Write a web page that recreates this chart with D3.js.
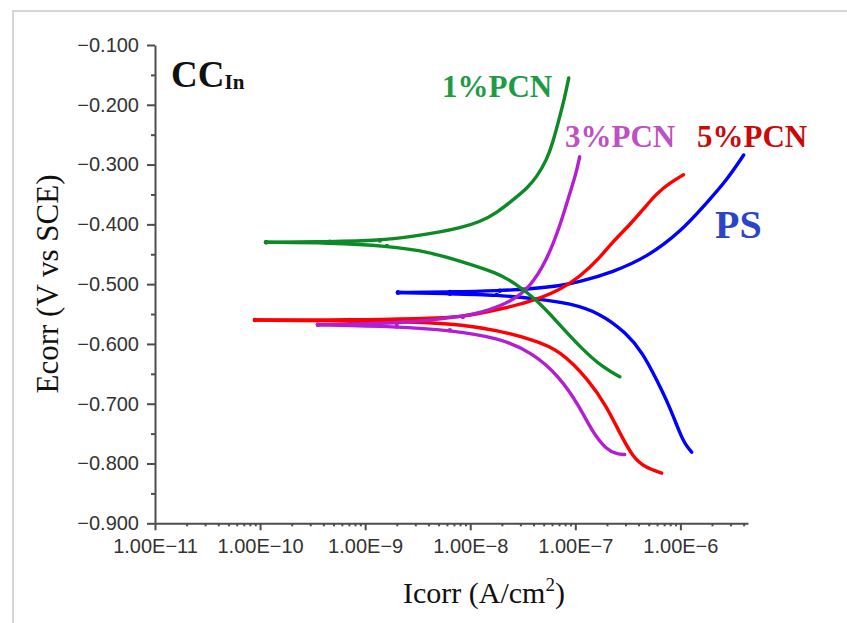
<!DOCTYPE html>
<html>
<head>
<meta charset="utf-8">
<style>
  body { margin: 0; background: #fff; }
  svg { display: block; }
  .axis path, .axis line { stroke: #4d4d4d; stroke-width: 2; }
  .axis text { font-family: "Liberation Sans", Arial, sans-serif; font-size: 20px; fill: #333; }
</style>
<script src="https://d3js.org/d3.v7.min.js" charset="utf-8"></script>
</head>
<body>
<script>
// tick values and labels
const yTicks = [-0.1, -0.2, -0.3, -0.4, -0.5, -0.6, -0.7, -0.8, -0.9];
const yTickLabels = ["\u22120.100", "\u22120.200", "\u22120.300", "\u22120.400", "\u22120.500", "\u22120.600", "\u22120.700", "\u22120.800", "\u22120.900"];
const xTicks = [1e-11, 1e-10, 1e-9, 1e-8, 1e-7, 1e-6];
const xTickLabels = ["1.00E\u221211", "1.00E\u221210", "1.00E\u22129", "1.00E\u22128", "1.00E\u22127", "1.00E\u22126"];

// 1%PCN : cathodic branch then anodic branch, both start at Ecorr
const pcn1CathI = [1.14e-10, 4.6e-10, 1.61e-9, 4.13e-9, 8.5e-9, 1.79e-8, 2.65e-8, 4.29e-8, 7.11e-8, 1.18e-7, 1.82e-7, 2.65e-7];
const pcn1CathE = [-0.430, -0.431, -0.436, -0.446, -0.463, -0.481, -0.498, -0.526, -0.568, -0.610, -0.639, -0.655];
const pcn1AnI = [1.14e-10, 4.6e-10, 1.38e-9, 2.84e-9, 5.1e-9, 7.96e-9, 1.23e-8, 1.79e-8, 2.77e-8, 3.45e-8, 4.29e-8, 5.35e-8, 6.09e-8, 7.11e-8, 7.94e-8, 8.66e-8];
const pcn1AnE = [-0.430, -0.429, -0.427, -0.420, -0.413, -0.406, -0.396, -0.381, -0.354, -0.340, -0.321, -0.292, -0.264, -0.220, -0.187, -0.155];

// 3%PCN
const pcn3CathI = [3.55e-10, 2.0e-9, 6.4e-9, 1.91e-8, 3.94e-8, 7.11e-8, 1.10e-7, 1.47e-7, 1.99e-7, 2.48e-7, 2.95e-7];
const pcn3CathE = [-0.568, -0.571, -0.577, -0.590, -0.615, -0.655, -0.705, -0.749, -0.777, -0.784, -0.785];
const pcn3AnI = [3.55e-10, 2.0e-9, 8.5e-9, 1.54e-8, 2.38e-8, 3.69e-8, 5.35e-8, 7.11e-8, 8.85e-8, 1.01e-7, 1.10e-7];
const pcn3AnE = [-0.568, -0.566, -0.555, -0.543, -0.530, -0.506, -0.460, -0.404, -0.348, -0.317, -0.287];

// 5%PCN
const pcn5CathI = [8.94e-11, 7.16e-10, 3.32e-9, 8.5e-9, 1.79e-8, 3.94e-8, 7.11e-8, 1.37e-7, 1.99e-7, 2.65e-7, 3.52e-7, 4.57e-7, 6.64e-7];
const pcn5CathE = [-0.560, -0.562, -0.563, -0.568, -0.577, -0.593, -0.610, -0.662, -0.705, -0.749, -0.789, -0.806, -0.816];
const pcn5AnI = [8.94e-11, 7.16e-10, 3.32e-9, 8.5e-9, 1.79e-8, 3.69e-8, 7.11e-8, 1.10e-7, 1.71e-7, 2.27e-7, 3.29e-7, 4.38e-7, 5.95e-7, 7.91e-7, 1.07e-6];
const pcn5AnE = [-0.560, -0.560, -0.558, -0.555, -0.543, -0.530, -0.510, -0.488, -0.456, -0.429, -0.401, -0.376, -0.348, -0.331, -0.317];

// PS
const psCathI = [2.05e-9, 6.4e-9, 1.79e-8, 4.59e-8, 8.85e-8, 1.71e-7, 3.08e-7, 4.38e-7, 5.95e-7, 7.91e-7, 9.85e-7, 1.12e-6, 1.28e-6];
const psCathE = [-0.514, -0.516, -0.518, -0.525, -0.532, -0.548, -0.582, -0.615, -0.660, -0.705, -0.749, -0.769, -0.781];
const psAnI = [2.05e-9, 6.4e-9, 1.91e-8, 3.69e-8, 7.11e-8, 1.10e-7, 2.27e-7, 4.78e-7, 9.85e-7, 1.78e-6, 2.76e-6, 4.0e-6];
const psAnE = [-0.514, -0.513, -0.511, -0.508, -0.503, -0.496, -0.480, -0.455, -0.414, -0.364, -0.326, -0.284];

const series = [
  { name: "PS", color: "#0000ff", branches: [[psCathI, psCathE], [psAnI, psAnE]] },
  { name: "5%PCN", color: "#ff0000", branches: [[pcn5CathI, pcn5CathE], [pcn5AnI, pcn5AnE]] },
  { name: "3%PCN", color: "#b41ed2", branches: [[pcn3CathI, pcn3CathE], [pcn3AnI, pcn3AnE]] },
  { name: "1%PCN", color: "#0b8a26", branches: [[pcn1CathI, pcn1CathE], [pcn1AnI, pcn1AnE]] }
];

const W = 847, H = 623;
const svg = d3.select("body").append("svg").attr("width", W).attr("height", H);

// light frame around the figure
svg.append("rect").attr("x", 13).attr("y", 11).attr("width", 900).attr("height", 700)
  .attr("fill", "none").attr("stroke", "#d6d6d6").attr("stroke-width", 2);

const x = d3.scaleLog().domain([1e-11, 4.4e-6]).range([155, 748]);
const y = d3.scaleLinear().domain([-0.1, -0.9]).range([45, 523.3]);

// minor ticks
const xMinor = [];
for (let p = -11; p <= -6; p++) for (let k = 2; k <= 9; k++) { const v = k * Math.pow(10, p); if (v <= 4.4e-6) xMinor.push(v); }
svg.append("g").attr("class", "axis").attr("transform", `translate(0,${y(-0.9)})`)
  .call(d3.axisBottom(x).tickValues(xMinor).tickSize(3).tickFormat("").tickSizeOuter(0))
  .select(".domain").remove();
const yMinor = d3.range(-0.15, -0.9, -0.1);
svg.append("g").attr("class", "axis").attr("transform", `translate(${x(1e-11)},0)`)
  .call(d3.axisLeft(y).tickValues(yMinor).tickSize(4).tickFormat("").tickSizeOuter(0))
  .select(".domain").remove();

svg.append("g").attr("class", "axis").attr("transform", `translate(0,${y(-0.9)})`)
  .call(d3.axisBottom(x).tickValues(xTicks).tickFormat((d, i) => xTickLabels[i]).tickSize(7).tickPadding(9).tickSizeOuter(0));
svg.append("g").attr("class", "axis").attr("transform", `translate(${x(1e-11)},0)`)
  .call(d3.axisLeft(y).tickValues(yTicks).tickFormat((d, i) => yTickLabels[i]).tickSize(8).tickPadding(8).tickSizeOuter(0));

// curves
const line = d3.line().x(d => x(d[0])).y(d => y(d[1])).curve(d3.curveBasis);
series.forEach(s => {
  s.branches.forEach(b => {
    const pts = b[0].map((v, i) => [v, b[1][i]]);
    svg.append("path").datum(pts).attr("d", line)
      .attr("fill", "none").attr("stroke", s.color).attr("stroke-width", 3.4)
      .attr("stroke-linecap", "round").attr("stroke-linejoin", "round");
    svg.append("g").selectAll("circle").data(pts.slice(0, 3)).join("circle")
      .attr("cx", d => x(d[0])).attr("cy", d => y(d[1])).attr("r", 2.2).attr("fill", s.color);
  });
});

// labels
const serif = "'Liberation Serif', 'Times New Roman', serif";
const title = svg.append("text").attr("x", 171).attr("y", 87)
  .attr("font-family", serif).attr("font-weight", "bold").attr("font-size", 37).attr("fill", "#111");
title.append("tspan").text("CC");
title.append("tspan").attr("font-size", 21).attr("dy", 2).text("In");

const seriesLabels = [
  { text: "1%PCN", x: 442, y: 96.5, size: 31, color: "#1f9a45" },
  { text: "3%PCN", x: 565, y: 146.5, size: 31, color: "#c050c0" },
  { text: "5%PCN", x: 697, y: 146.5, size: 31, color: "#c80a0a" },
  { text: "PS", x: 715, y: 238, size: 40, color: "#2a45c8" }
];
svg.selectAll(".slabel").data(seriesLabels).join("text").attr("class", "slabel")
  .attr("x", d => d.x).attr("y", d => d.y).attr("font-family", serif).attr("font-weight", "bold")
  .attr("font-size", d => d.size).attr("fill", d => d.color).text(d => d.text);

svg.append("text").attr("transform", "translate(58,284) rotate(-90)").attr("text-anchor", "middle")
  .attr("font-family", serif).attr("font-size", 31).attr("fill", "#111").text("Ecorr (V vs SCE)");

const xl = svg.append("text").attr("x", 484).attr("y", 603).attr("text-anchor", "middle")
  .attr("font-family", serif).attr("font-size", 30).attr("fill", "#111");
xl.append("tspan").text("Icorr (A/cm");
xl.append("tspan").attr("font-size", 19).attr("dy", -12).text("2");
xl.append("tspan").attr("dy", 12).text(")");
</script>
</body>
</html>
